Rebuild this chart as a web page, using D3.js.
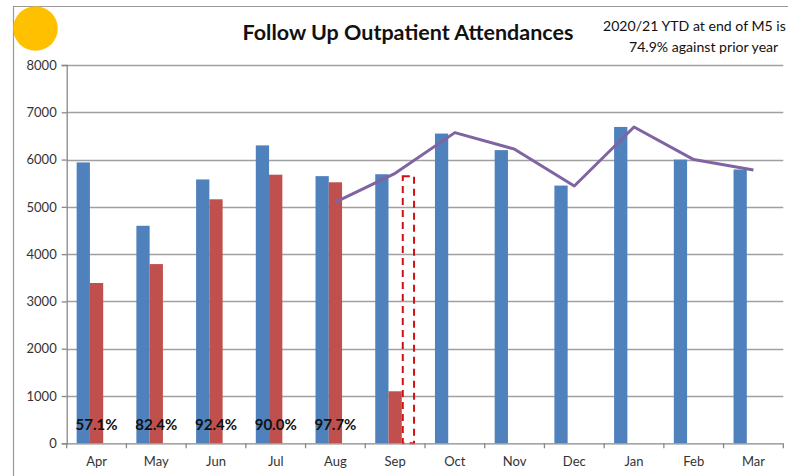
<!DOCTYPE html>
<html><head><meta charset="utf-8">
<script src="https://cdn.jsdelivr.net/npm/d3@7/dist/d3.min.js"></script>
<style>body{margin:0;background:#fff}svg{display:block}text{font-family:Lato,"Open Sans",sans-serif}</style>
</head><body><svg id="c" width="788" height="476"></svg>
<script>
const months = ["Apr","May","Jun","Jul","Aug","Sep","Oct","Nov","Dec","Jan","Feb","Mar"];
const priorYear = [5940,4600,5580,6300,5650,5690,6550,6200,5450,6690,6000,5790];
const currentYear = [3390,3790,5160,5680,5520,1100,null,null,null,null,null,null];
const forecastSep = [null,null,null,null,null,5650,null,null,null,null,null,null];
const trendLine = [null,null,null,null,5100,5710,6570,6220,5440,6690,6000,5780];
const pctLabels = ["57.1%","82.4%","92.4%","90.0%","97.7%",null,null,null,null,null,null,null];
const yTicks = [0,1000,2000,3000,4000,5000,6000,7000,8000];
const titleText = "Follow Up Outpatient Attendances";
const noteLines = ["2020/21 YTD at end of M5 is","74.9% against prior year"];

const svg = d3.select("#c");
const L=66.7, R=783.3, T=65, B=443.3;
const x = d3.scaleBand().domain(months).range([L,R]).paddingInner(0).paddingOuter(0);
const xs = d3.scaleBand().domain(["p","c","f"]).range([0,x.bandwidth()]).paddingInner(0).paddingOuter(0.75);
const y = d3.scaleLinear().domain([0,8000]).range([B,T]);

// frame
svg.append("path").attr("d","M13.5,476 V6.5 H790").attr("fill","none").attr("stroke","#999").attr("stroke-width",1.2);
// yellow circle
svg.append("circle").attr("cx",35.5).attr("cy",28.5).attr("r",22.3).attr("fill","#FFC000");

// gridlines
svg.append("g").selectAll("line").data(yTicks.filter(d=>d>0)).join("line")
  .attr("x1",L).attr("x2",R).attr("y1",d=>Math.round(y(d))+0.5).attr("y2",d=>Math.round(y(d))+0.5)
  .attr("stroke","#a0a0a0").attr("stroke-width",1.3);

// y axis
const ya = svg.append("g").attr("transform",`translate(${L},0)`)
  .call(d3.axisLeft(y).tickValues(yTicks).tickSize(5).tickPadding(5).tickFormat(d3.format("d")));
ya.select(".domain").attr("stroke","#888").attr("stroke-width",1.3);
ya.selectAll(".tick line").attr("stroke","#888").attr("stroke-width",1.3);
ya.selectAll("text").attr("font-size",13).attr("fill","#333").attr("font-family","Lato,sans-serif");

// bars
const g = svg.append("g");
g.selectAll("rect.p").data(months).join("rect").attr("class","p")
  .attr("x",d=>x(d)+xs("p")).attr("width",xs.bandwidth())
  .attr("y",(d,i)=>y(priorYear[i])).attr("height",(d,i)=>y(0)-y(priorYear[i]))
  .attr("fill","#4F81BD");
g.selectAll("rect.c").data(months.filter((d,i)=>currentYear[i]!=null)).join("rect").attr("class","c")
  .attr("x",d=>x(d)+xs("c")).attr("width",xs.bandwidth())
  .attr("y",d=>y(currentYear[months.indexOf(d)])).attr("height",d=>y(0)-y(currentYear[months.indexOf(d)]))
  .attr("fill","#C0504D");
g.selectAll("rect.f").data(months.filter((d,i)=>forecastSep[i]!=null)).join("rect").attr("class","f")
  .attr("x",d=>x(d)+xs("f")+1).attr("width",xs.bandwidth()-2)
  .attr("y",d=>y(forecastSep[months.indexOf(d)])).attr("height",d=>y(0)-y(forecastSep[months.indexOf(d)]))
  .attr("fill","none").attr("stroke","#D01010").attr("stroke-width",2).attr("stroke-dasharray","7,5");

// x axis
const xa = svg.append("g").attr("transform",`translate(0,${B})`)
  .call(d3.axisBottom(x).tickSize(0).tickPadding(13));
xa.select(".domain").remove();
svg.append("line").attr("x1",L).attr("x2",R).attr("y1",B+0.5).attr("y2",B+0.5).attr("stroke","#888").attr("stroke-width",1.3);
svg.append("g").selectAll("line").data(months.map(m=>x(m)).concat([R])).join("line")
  .attr("x1",d=>d).attr("x2",d=>d).attr("y1",B).attr("y2",B+5).attr("stroke","#888").attr("stroke-width",1.3);
xa.selectAll("text").attr("font-size",13).attr("fill","#333").attr("font-family","Lato,sans-serif");

// line
const ld = months.map((m,i)=>({m,v:trendLine[i]})).filter(d=>d.v!=null);
svg.append("path").datum(ld)
  .attr("d",d3.line().x(d=>x(d.m)+x.bandwidth()/2).y(d=>y(d.v)))
  .attr("fill","none").attr("stroke","#8064A2").attr("stroke-width",3).attr("stroke-linejoin","round");

// pct labels
svg.append("g").selectAll("text").data(months.filter((d,i)=>pctLabels[i]!=null)).join("text")
  .attr("x",d=>x(d)+x.bandwidth()/2).attr("y",430)
  .attr("text-anchor","middle").attr("font-size",15).attr("font-weight","bold").attr("fill","#111")
  .text(d=>pctLabels[months.indexOf(d)]);

// title
svg.append("text").attr("x",408).attr("y",40).attr("text-anchor","middle")
  .attr("font-size",21.5).attr("font-weight","bold").attr("fill","#111").text(titleText);
svg.append("g").selectAll("text").data(noteLines).join("text")
  .attr("x",(d,i)=>i===0?603:629).attr("y",(d,i)=>i===0?31:52)
  .attr("font-size",14.1).attr("fill","#111").text(d=>d);
</script></body></html>
